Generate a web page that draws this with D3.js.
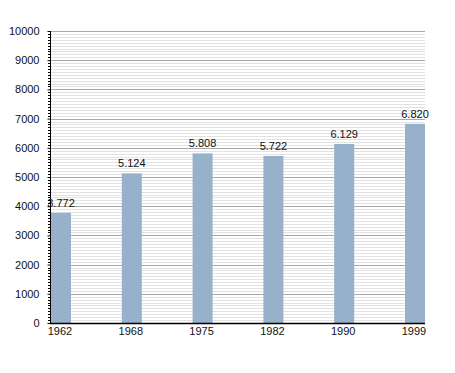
<!DOCTYPE html>
<html><head><meta charset="utf-8">
<script src="https://cdn.jsdelivr.net/npm/d3@7"></script>
<style>body{margin:0;background:#fff}svg{display:block}</style>
</head><body>
<script>
const years = ["1962","1968","1975","1982","1990","1999"];
const population = [3772,5124,5808,5722,6129,6820];
const valueLabels = ["3.772","5.124","5.808","5.722","6.129","6.820"];
const yMajorTicks = [0,1000,2000,3000,4000,5000,6000,7000,8000,9000,10000];

const W=455,H=373;
const pLeft=50,pRight=425,pTop=31,pBottom=323,barW=20;
const svg=d3.select("body").append("svg").attr("width",W).attr("height",H);
const y=d3.scaleLinear().domain([0,10000]).range([pBottom,pTop]);
const x=d3.scalePoint().domain(years).range([pLeft+1+barW/2,pRight-barW/2]);
const font="Liberation Sans, Arial, Helvetica, sans-serif";

const minor=d3.range(0,10001,100).filter(v=>v%1000!==0);
svg.append("g").selectAll("line").data(minor).join("line")
 .attr("x1",pLeft).attr("x2",pRight).attr("y1",d=>Math.round(y(d))+0.5).attr("y2",d=>Math.round(y(d))+0.5)
 .attr("stroke","#e2e2e2").attr("stroke-width",1);
svg.append("g").selectAll("line").data(yMajorTicks.filter(v=>v>0)).join("line")
 .attr("x1",pLeft).attr("x2",pRight).attr("y1",d=>Math.round(y(d))+0.5).attr("y2",d=>Math.round(y(d))+0.5)
 .attr("stroke","#a8a8a8").attr("stroke-width",1);

svg.append("g").selectAll("rect").data(population).join("rect")
 .attr("x",(d,i)=>x(years[i])-barW/2).attr("width",barW)
 .attr("y",d=>y(d)).attr("height",d=>pBottom-y(d)).attr("fill","#98b1cb");

svg.append("g").selectAll("text").data(valueLabels).join("text")
 .attr("x",(d,i)=>x(years[i])).attr("y",(d,i)=>y(population[i])-6)
 .attr("text-anchor","middle").attr("font-family",font).attr("font-size",11).attr("fill","#111")
 .text(d=>d);

// y axis
const yAxis=d3.axisLeft(y).tickValues(yMajorTicks).tickSize(3).tickPadding(8).tickFormat(d3.format("d"));
const ga=svg.append("g").attr("transform",`translate(${pLeft+0.5},0)`).call(yAxis);
ga.select(".domain").attr("stroke","#000").attr("d",`M0,${pTop}V${pBottom}`);
ga.selectAll("text").attr("font-family",font).attr("font-size",11).attr("fill","#111");
ga.selectAll(".tick line").attr("stroke","#000");
svg.append("g").selectAll("line").data(minor).join("line")
 .attr("x1",pLeft-2).attr("x2",pLeft).attr("y1",d=>Math.round(y(d))+0.5).attr("y2",d=>Math.round(y(d))+0.5)
 .attr("stroke","#000");

// x axis
svg.append("line").attr("x1",pLeft).attr("x2",pRight).attr("y1",pBottom+0.5).attr("y2",pBottom+0.5).attr("stroke","#000").attr("stroke-width",1.5);
svg.append("g").selectAll("text").data(years).join("text")
 .attr("x",d=>x(d)-1).attr("y",pBottom+12)
 .attr("text-anchor","middle").attr("font-family",font).attr("font-size",11).attr("fill","#111")
 .text(d=>d);
</script>
</body></html>
